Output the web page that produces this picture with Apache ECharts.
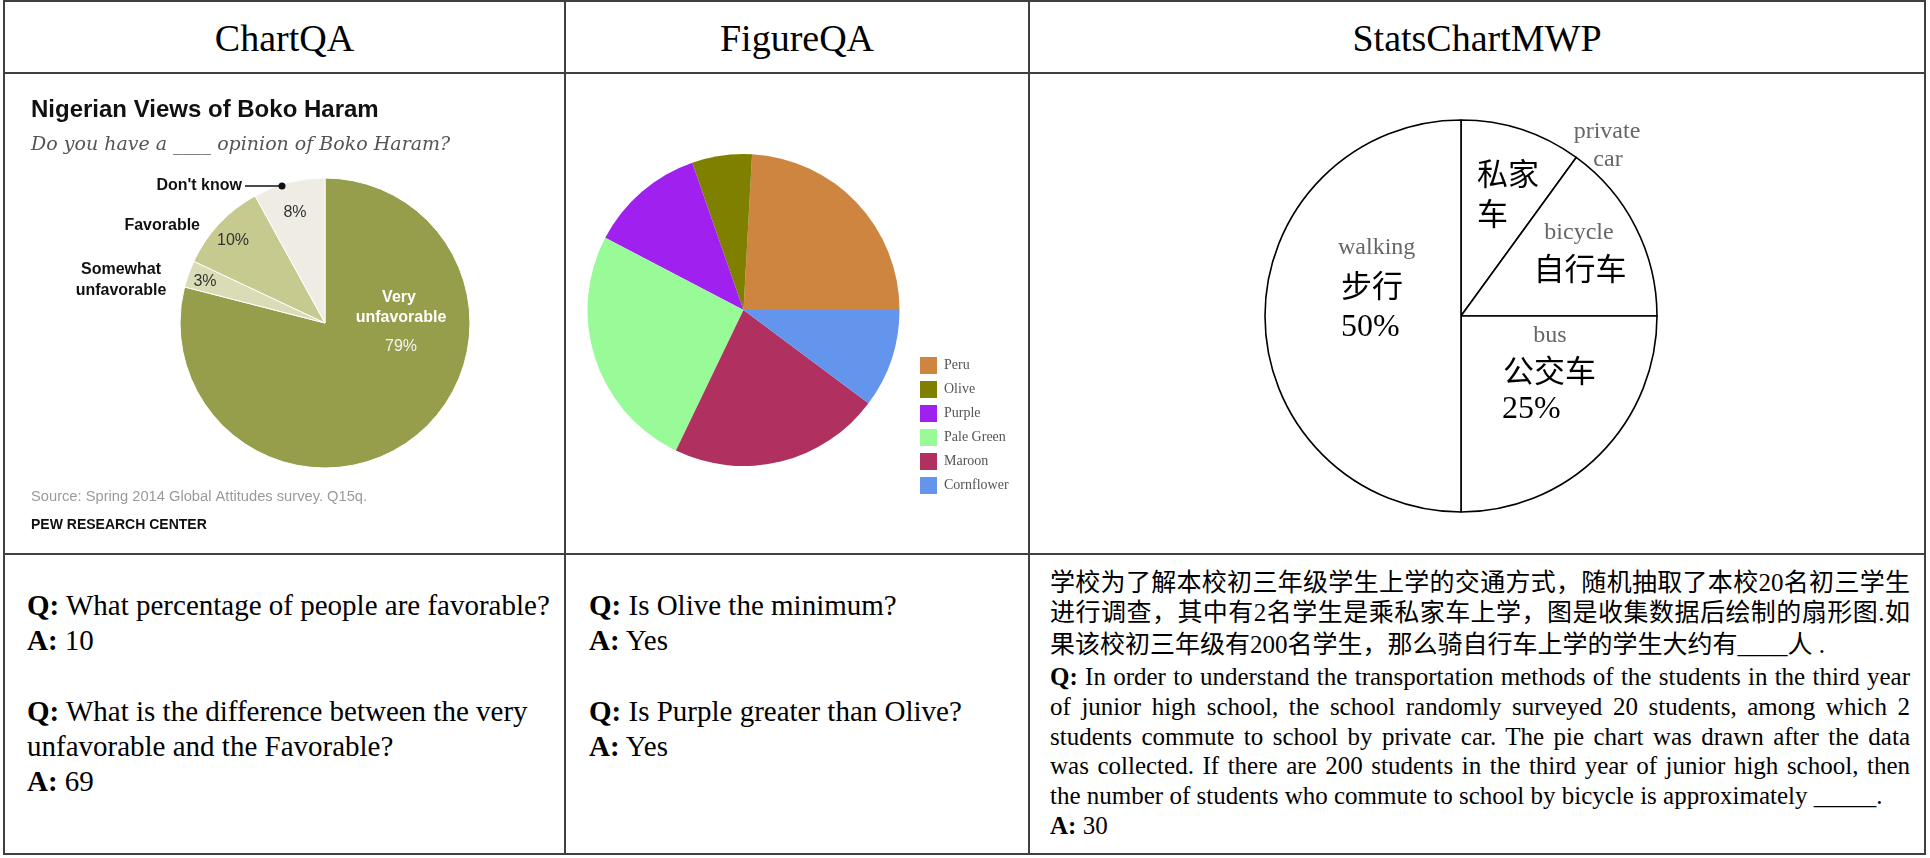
<!DOCTYPE html>
<html>
<head>
<meta charset="utf-8">
<title>ChartQA / FigureQA / StatsChartMWP</title>
<script src="https://cdn.jsdelivr.net/npm/echarts@6/dist/echarts.min.js"></script>
<style>
  body { margin: 0; background: #fff; }
  #page { position: relative; width: 1930px; height: 858px; overflow: hidden;
          font-family: "Liberation Serif", serif; color: #000; }
  .ln { position: absolute; background: #404040; }
  .head { position: absolute; top: 0; height: 72px; line-height: 76px; text-align: center; font-size: 38px; }
  .chart { position: absolute; top: 74px; height: 479px; }
  .qa { position: absolute; top: 588px; font-size: 29px; line-height: 35.2px; white-space: nowrap; }
  .zh { position: absolute; left: 1050px; width: 860px; font-family: "Noto Sans CJK SC", sans-serif;
        font-size: 25px; line-height: 31px; }
  .zh .r { font-family: "Liberation Serif", serif; }
  .en { position: absolute; left: 1050px; top: 662px; width: 860px; font-size: 25px; line-height: 29.8px; }
  .j { text-align: justify; text-align-last: justify; }
</style>
</head>
<body>
<div id="page">
  <!-- table rules -->
  <div class="ln" style="left:3px;top:0;width:1923px;height:2px"></div>
  <div class="ln" style="left:3px;top:72px;width:1923px;height:2px"></div>
  <div class="ln" style="left:3px;top:553px;width:1923px;height:2px"></div>
  <div class="ln" style="left:3px;top:853px;width:1923px;height:2px"></div>
  <div class="ln" style="left:3px;top:0;width:2px;height:855px"></div>
  <div class="ln" style="left:564px;top:0;width:2px;height:855px"></div>
  <div class="ln" style="left:1028px;top:0;width:2px;height:855px"></div>
  <div class="ln" style="left:1924px;top:0;width:2px;height:855px"></div>

  <div class="head" style="left:5px;width:559px">ChartQA</div>
  <div class="head" style="left:566px;width:462px">FigureQA</div>
  <div class="head" style="left:1030px;width:894px">StatsChartMWP</div>

  <div id="chartqa" class="chart" style="left:5px;width:559px"></div>
  <div id="figureqa" class="chart" style="left:566px;width:462px"></div>
  <div id="mwp" class="chart" style="left:1030px;width:894px"></div>

  <div class="qa" style="left:27px">
    <b>Q:</b> What percentage of people are favorable?<br>
    <b>A:</b> 10<br>
    <br>
    <b>Q:</b> What is the difference between the very<br>
    unfavorable and the Favorable?<br>
    <b>A:</b> 69
  </div>
  <div class="qa" style="left:589px">
    <b>Q:</b> Is Olive the minimum?<br>
    <b>A:</b> Yes<br>
    <br>
    <b>Q:</b> Is Purple greater than Olive?<br>
    <b>A:</b> Yes
  </div>

  <div class="zh j" style="top:565px">学校为了解本校初三年级学生上学的交通方式，随机抽取了本校<span class="r">20</span>名初三学生</div>
  <div class="zh j" style="top:595px">进行调查，其中有<span class="r">2</span>名学生是乘私家车上学，图是收集数据后绘制的扇形图<span class="r">.</span>如</div>
  <div class="zh" style="top:627px">果该校初三年级有<span class="r">200</span>名学生，那么骑自行车上学的学生大约有<span class="r">____</span>人<span class="r"> .</span></div>

  <div class="en">
    <div class="j"><b>Q:</b> In order to understand the transportation methods of the students in the third year</div>
    <div class="j">of junior high school, the school randomly surveyed 20 students, among which 2</div>
    <div class="j">students commute to school by private car. The pie chart was drawn after the data</div>
    <div class="j">was collected. If there are 200 students in the third year of junior high school, then</div>
    <div>the number of students who commute to school by bicycle is approximately _____.</div>
    <div><b>A:</b> 30</div>
  </div>
</div>

<script>
// ChartQA: Nigerian Views of Boko Haram
var cqNames = ["Very unfavorable", "Somewhat unfavorable", "Favorable", "Don't know"];
var cqValues = [79, 3, 10, 8];
var cqColors = ["#969e4c", "#dadcb6", "#c6ca8f", "#efece4"];

// FigureQA
var fqNames = ["Peru", "Olive", "Purple", "Pale Green", "Maroon", "Cornflower"];
var fqValues = [24.1, 6.2, 12.0, 25.5, 21.9, 10.2];
var fqColors = ["#cd853f", "#808000", "#a020f0", "#98fb98", "#b03060", "#6495ed"];

// StatsChartMWP
var mwpNames = ["private car", "bicycle", "bus", "walking"];
var mwpNamesZh = ["私家车", "自行车", "公交车", "步行"];
var mwpValues = [10, 15, 25, 50];

// graphic text drawn above the pie (pie z is 2)
function txt(text, x, y, font, fill, align) {
  return {
    type: "text",
    silent: true,
    z: 100,
    style: {
      text: text, x: x, y: y, font: font, fill: fill,
      align: align || "left", verticalAlign: "middle",
      textAlign: align || "left", textVerticalAlign: "middle"
    }
  };
}

function pieData(names, values, colors) {
  var out = [];
  for (var i = 0; i < names.length; i++) {
    var d = { name: names[i], value: values[i] };
    if (colors) d.itemStyle = { color: colors[i] };
    out.push(d);
  }
  return out;
}

var SANS = '"Liberation Sans", Arial, sans-serif';
var SERIF = '"Liberation Serif", serif';
var CJK = '"Noto Sans CJK SC", sans-serif';

// ---- ChartQA ----
var chart1 = echarts.init(document.getElementById("chartqa"));
chart1.setOption({
  animation: false,
  series: [{
    type: "pie",
    center: [320, 249],
    radius: 145,
    startAngle: 90,
    clockwise: true,
    silent: true,
    label: { show: false },
    labelLine: { show: false },
    itemStyle: { borderColor: "#fff", borderWidth: 1 },
    data: pieData(cqNames, cqValues, cqColors)
  }],
  graphic: [
    txt("Nigerian Views of Boko Haram", 26, 36, "bold 24px " + SANS, "#111"),
    txt("Do you have a ____ opinion of Boko Haram?", 26, 71, 'italic 19px "DejaVu Serif", serif', "#555"),
    txt("Don't know", 237, 112, "bold 16px " + SANS, "#111", "right"),
    { type: "line", silent: true, z: 100, shape: { x1: 240, y1: 112, x2: 277, y2: 112 },
      style: { stroke: "#111", lineWidth: 1.5 } },
    { type: "circle", silent: true, z: 100, shape: { cx: 277, cy: 112, r: 3.5 }, style: { fill: "#111" } },
    txt(cqValues[3] + "%", 290, 139, "16px " + SANS, "#333", "center"),
    txt("Favorable", 195, 152, "bold 16px " + SANS, "#111", "right"),
    txt(cqValues[2] + "%", 228, 167, "16px " + SANS, "#333", "center"),
    txt("Somewhat", 116, 196, "bold 16px " + SANS, "#111", "center"),
    txt("unfavorable", 116, 217, "bold 16px " + SANS, "#111", "center"),
    txt(cqValues[1] + "%", 200, 208, "16px " + SANS, "#333", "center"),
    txt("Very", 394, 224, "bold 16px " + SANS, "#fff", "center"),
    txt("unfavorable", 396, 244, "bold 16px " + SANS, "#fff", "center"),
    txt(cqValues[0] + "%", 396, 273, "16px " + SANS, "#f4f4f4", "center"),
    txt("Source: Spring 2014 Global Attitudes survey. Q15q.", 26, 423, "14.7px " + SANS, "#9a9a9a"),
    txt("PEW RESEARCH CENTER", 26, 451, "bold 14px " + SANS, "#111")
  ]
});

// ---- FigureQA ----
var chart2 = echarts.init(document.getElementById("figureqa"));
chart2.setOption({
  animation: false,
  color: fqColors,
  legend: {
    orient: "vertical",
    left: 349,
    top: 278,
    itemWidth: 17,
    itemHeight: 17,
    itemGap: 7,
    icon: "rect",
    selectedMode: false,
    itemStyle: { borderWidth: 0 },
    textStyle: { fontFamily: "Liberation Serif", fontSize: 14, color: "#555", padding: [0, 0, 0, 2] },
    data: fqNames
  },
  series: [{
    type: "pie",
    center: [177.5, 236],
    radius: 156,
    startAngle: 0,
    clockwise: false,
    silent: true,
    label: { show: false },
    labelLine: { show: false },
    itemStyle: { borderWidth: 0 },
    data: pieData(fqNames, fqValues)
  }]
});

// ---- StatsChartMWP ----
var chart3 = echarts.init(document.getElementById("mwp"));
chart3.setOption({
  animation: false,
  series: [{
    type: "pie",
    center: [431, 242],
    radius: 196,
    startAngle: 90,
    clockwise: true,
    silent: true,
    label: { show: false },
    labelLine: { show: false },
    itemStyle: { color: "#fff", borderColor: "#000", borderWidth: 1.6 },
    data: pieData(mwpNames, mwpValues)
  }],
  graphic: [
    txt("private", 577, 58, "24px " + SERIF, "#666", "center"),
    txt("car", 578, 86, "24px " + SERIF, "#666", "center"),
    txt(mwpNamesZh[0].slice(0, 2), 447, 99, "31px " + CJK, "#000"),
    txt(mwpNamesZh[0].slice(2), 447, 139, "31px " + CJK, "#000"),
    txt("bicycle", 549, 159, "24px " + SERIF, "#666", "center"),
    txt(mwpNamesZh[1], 550, 194, "31px " + CJK, "#000", "center"),
    txt("walking", 308, 174, "24px " + SERIF, "#666"),
    txt(mwpNamesZh[3], 311, 211, "31px " + CJK, "#000"),
    txt(mwpValues[3] + "%", 311, 254, "32px " + SERIF, "#000"),
    txt("bus", 520, 262, "24px " + SERIF, "#666", "center"),
    txt(mwpNamesZh[2], 473, 296, "31px " + CJK, "#000"),
    txt(mwpValues[2] + "%", 472, 336, "32px " + SERIF, "#000")
  ]
});
</script>
</body>
</html>
